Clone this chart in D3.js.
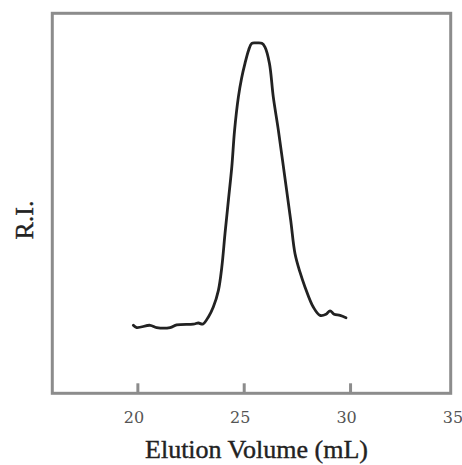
<!DOCTYPE html>
<meta charset="utf-8">
<script src="https://d3js.org/d3.v7.min.js"></script>
<style>
  body { margin: 0; background: #fff; }
</style>
<div id="chart"></div>
<script>

// elution volume (mL) and refractive index signal (arbitrary units, 0-100 of frame height)
var elutionVolume = [19.81, 19.97, 20.60, 20.91, 21.54, 21.85, 22.63, 22.87, 23.07, 23.34,
  23.57, 23.81, 23.97, 24.12, 24.28, 24.44, 24.57, 24.75, 24.90, 25.06,
  25.23, 25.38, 25.61, 25.85, 26.00, 26.21, 26.39, 26.63, 26.92, 27.21,
  27.41, 27.65, 27.88, 28.27, 28.59, 28.87, 29.06, 29.25, 29.53, 29.81];
var riSignal = [17.9, 17.3, 17.9, 17.3, 17.3, 18.0, 18.2, 18.5, 18.2, 20.1,
  22.7, 27.1, 33.2, 42.0, 50.8, 59.6, 69.2, 78.0, 82.9, 86.8,
  90.3, 92.1, 92.2, 92.1, 91.1, 86.8, 78.0, 69.2, 57.4, 45.5,
  36.8, 31.8, 28.0, 22.7, 20.5, 20.8, 21.7, 20.8, 20.5, 19.9];
var xTicks = [20, 25, 30, 35];

var width = 462, height = 465;
var frame = {left: 52.3, top: 13.3, right: 450.7, bottom: 393.3};

var svg = d3.select("#chart")
  .append("svg")
    .attr("width", width)
    .attr("height", height);

var x = d3.scaleLinear()
  .domain([16, 35])
  .range([frame.left, 456.4]);

var y = d3.scaleLinear()
  .domain([0, 100])
  .range([frame.bottom, frame.top]);

// box around the plot
svg.append("rect")
  .attr("x", frame.left)
  .attr("y", frame.top)
  .attr("width", frame.right - frame.left)
  .attr("height", frame.bottom - frame.top)
  .attr("fill", "none")
  .attr("stroke", "#8c8c8c")
  .attr("stroke-width", 3);

// x axis, ticks pointing inward
var xAxis = svg.append("g")
  .attr("transform", "translate(0," + frame.bottom + ")")
  .call(d3.axisBottom(x).tickValues(xTicks).tickSize(-10).tickPadding(18));

xAxis.select(".domain").remove();
xAxis.selectAll(".tick line")
  .attr("stroke", "#8c8c8c")
  .attr("stroke-width", 3)
  .style("display", function(d) { return d > 30 ? "none" : null; });
xAxis.selectAll(".tick text")
  .attr("dx", -4)
  .style("font-family", "'DejaVu Serif', 'Liberation Serif', serif")
  .style("font-size", "16px")
  .attr("fill", "#555");

// the chromatogram
var data = elutionVolume.map(function(v, i) { return {v: v, ri: riSignal[i]}; });

var line = d3.line()
  .x(function(d) { return x(d.v); })
  .y(function(d) { return y(d.ri); })
  .curve(d3.curveCatmullRom.alpha(0.5));

svg.append("path")
  .datum(data)
  .attr("d", line)
  .attr("fill", "none")
  .attr("stroke", "#222")
  .attr("stroke-width", 2.8)
  .attr("stroke-linejoin", "round")
  .attr("stroke-linecap", "round");

// axis titles
svg.append("text")
  .attr("x", 256.5)
  .attr("y", 458)
  .attr("text-anchor", "middle")
  .style("font-family", "'Liberation Serif', 'DejaVu Serif', serif")
  .style("font-size", "26px")
  .attr("fill", "#222")
  .attr("stroke", "#222")
  .attr("stroke-width", 0.4)
  .text("Elution Volume (mL)");

svg.append("text")
  .attr("transform", "translate(33,220) rotate(-90)")
  .attr("text-anchor", "middle")
  .style("font-family", "'Liberation Serif', 'DejaVu Serif', serif")
  .style("font-size", "26px")
  .attr("fill", "#222")
  .attr("stroke", "#222")
  .attr("stroke-width", 0.4)
  .text("R.I.");

</script>
